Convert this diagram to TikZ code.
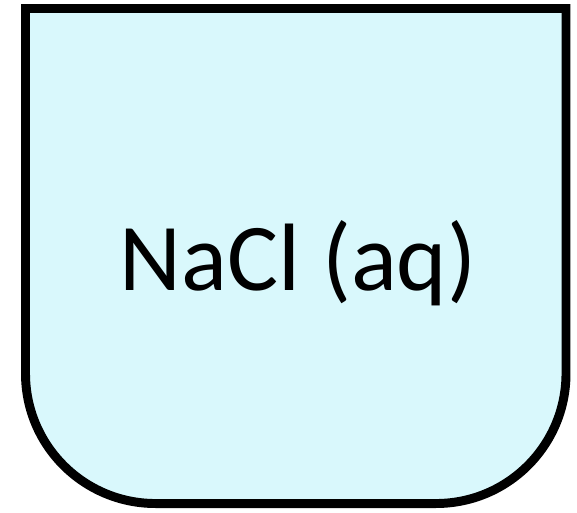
\documentclass[tikz,border=0pt]{standalone}
\usepackage{fontspec}
\setmainfont{Carlito}
\usepackage{xcolor}
\definecolor{brine}{RGB}{217,248,252}
\begin{document}
\begin{tikzpicture}[x=0.02cm, y=-0.02cm]
    \useasboundingbox (0,0) rectangle (577,512);

    % 1. Beaker with rounded bottom (y axis points down)
    \draw[line width=5.1pt, fill=brine, line join=miter]
        (25.5,8.5) -- (25.5,373.5) arc[start angle=180, end angle=90, radius=130]
        -- (436,503.5) arc[start angle=90, end angle=0, radius=130]
        -- (566,8.5) -- cycle;

    % 2. Contents label
    \node[font=\fontsize{54.5}{60}\selectfont, anchor=base] (sol) at (298,290) {NaCl (aq)};

\end{tikzpicture}
\end{document}
